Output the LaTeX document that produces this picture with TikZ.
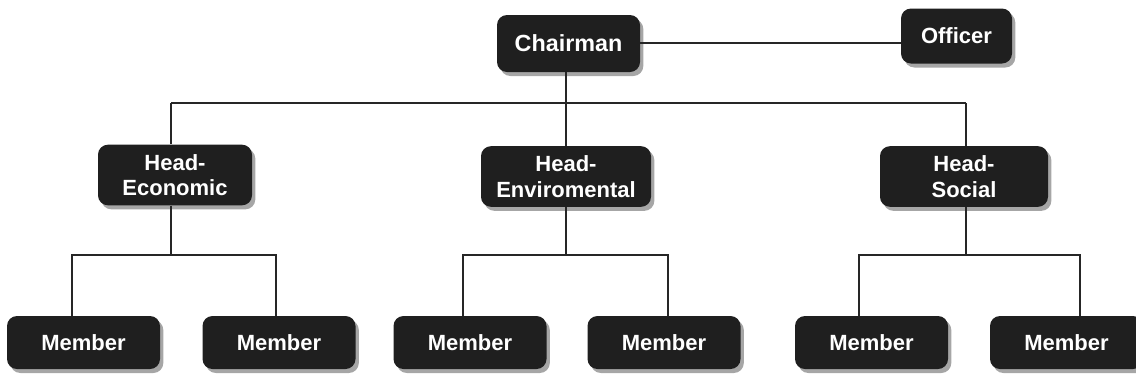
\documentclass[tikz,border=0pt]{standalone}
\usepackage{fontspec}
\setsansfont{Liberation Sans}
\usetikzlibrary{shadows}

\tikzset{
  box/.style={draw=none,fill=black!88,text=white,rounded corners=7.5pt,inner sep=0pt,
    align=center,font=\sffamily\bfseries\fontsize{16.5}{19}\selectfont,
    drop shadow={shadow xshift=2.5pt,shadow yshift=-3pt,fill=gray!70,opacity=1}},
  headbox/.style={box,minimum height=45.5pt},
  memberbox/.style={box,minimum width=114.75pt,minimum height=39.75pt},
  wire/.style={line width=1pt,black!85}
}

\begin{document}
\begin{tikzpicture}[x=0.75pt,y=-0.75pt]
\useasboundingbox (0,0) rectangle (1136,383);

%top row
\coordinate (dEcon) at (171,103);
\coordinate (dEnv)  at (566,103);
\coordinate (dSoc)  at (966,103);

%member buses
\coordinate (m1) at (72,255);
\coordinate (m2) at (276,255);
\coordinate (m3) at (463,255);
\coordinate (m4) at (668,255);
\coordinate (m5) at (859,255);
\coordinate (m6) at (1080,255);

\node[box,minimum width=107.25pt,minimum height=42.75pt,font=\sffamily\bfseries\fontsize{17.5}{20}\selectfont] (chair) at (568.5,43.5) {Chairman};
\node[box,minimum width=83.25pt,minimum height=41.25pt] (officer) at (956.5,36) {Officer};

\node[headbox,minimum width=115.5pt] (econ)   at (175,175)   {Head-\\Economic};
\node[headbox,minimum width=127.5pt] (env)    at (566,176.5) {Head-\\Enviromental};
\node[headbox,minimum width=126pt]   (social) at (964,176.5) {Head-\\Social};

\node[memberbox] (mem1) at (83.5,342.5)  {Member};
\node[memberbox] (mem2) at (279,342.5)   {Member};
\node[memberbox] (mem3) at (470,342.5)   {Member};
\node[memberbox] (mem4) at (664,342.5)   {Member};
\node[memberbox] (mem5) at (871.5,342.5) {Member};
\node[memberbox] (mem6) at (1066.5,342.5){Member};

%chairman and officer
\draw[wire] (chair.east |- 0,43) -- (officer.west |- 0,43);

\draw[wire] (chair.south -| dEnv) -- (dEnv);
\draw[wire] (dEcon) -- (dSoc);
\draw[wire] (dEcon) -- (econ.north -| dEcon);
\draw[wire] (dEnv) -- (env.north -| dEnv);
\draw[wire] (dSoc) -- (social.north -| dSoc);

%economic
\draw[wire] (econ.south -| dEcon) -- (m1 -| dEcon);
\draw[wire] (mem1.north -| m1) -- (m1) -- (m2) -- (mem2.north -| m2);

%enviromental
\draw[wire] (env.south -| dEnv) -- (m3 -| dEnv);
\draw[wire] (mem3.north -| m3) -- (m3) -- (m4) -- (mem4.north -| m4);

%social
\draw[wire] (social.south -| dSoc) -- (m5 -| dSoc);
\draw[wire] (mem5.north -| m5) -- (m5) -- (m6) -- (mem6.north -| m6);

\end{tikzpicture}
\end{document}
